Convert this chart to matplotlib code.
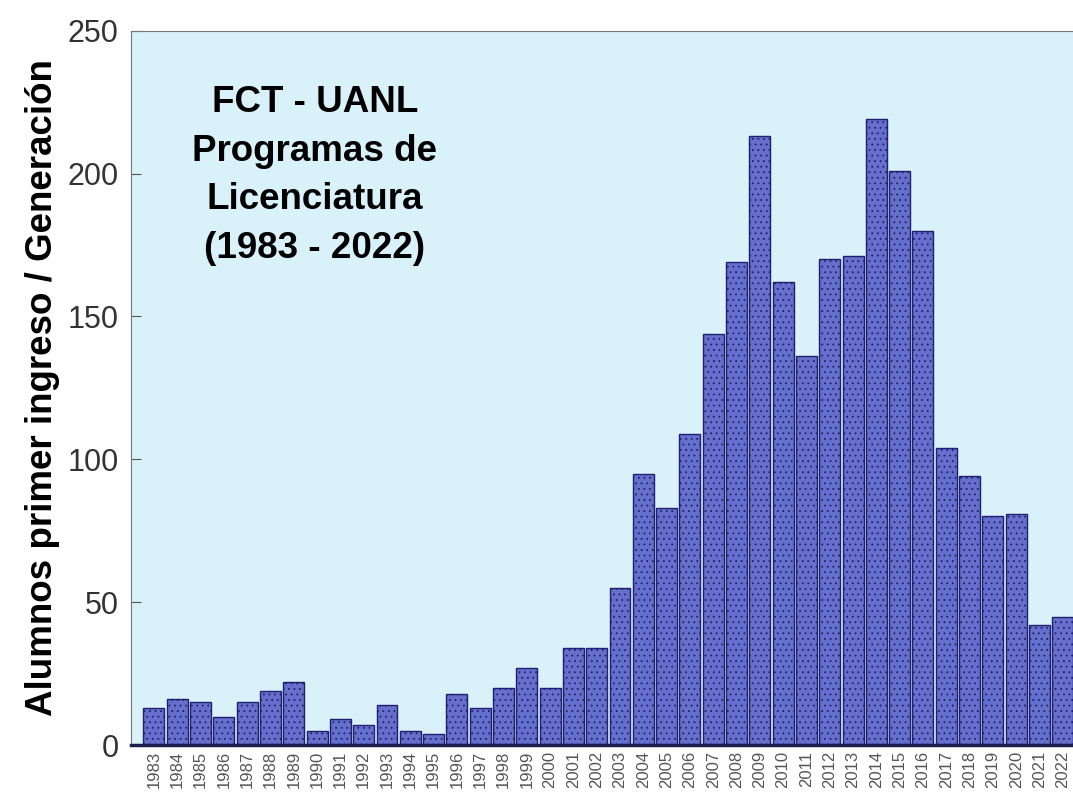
import matplotlib
matplotlib.use('Agg')
import matplotlib.pyplot as plt

# Alumnos de primer ingreso por generacion
years = [str(y) for y in range(1983, 2023)]
students = [13, 16, 15, 10, 15, 19, 22, 5, 9, 7,
            14, 5, 4, 18, 13, 20, 27, 20, 34, 34,
            55, 95, 83, 109, 144, 169, 213, 162, 136, 170,
            171, 219, 201, 180, 104, 94, 80, 81, 42, 45]
yticks = [0, 50, 100, 150, 200, 250]

plt.rcParams['font.family'] = ['Liberation Sans', 'DejaVu Sans']
plt.rcParams['hatch.linewidth'] = 0.6

fig = plt.figure(figsize=(10.73, 8.09), dpi=100)
ax = fig.add_axes([0.122, 0.079, 0.878, 0.883])
ax.set_facecolor('#d9f1f9')

x = list(range(len(years)))
ax.bar(x, students, width=0.9, color='#6670cc', edgecolor='#1e1f6e',
       linewidth=1.0, hatch='...')

ax.set_xlim(-0.99, 39.44)
ax.set_ylim(0, 250)
ax.set_yticks(yticks)
ax.set_yticklabels([str(t) for t in yticks], fontsize=22, color='#333333')
ax.set_xticks(x)
ax.set_xticklabels(years, rotation=90, fontsize=12, color='#555555')
ax.tick_params(axis='y', direction='in', length=7, color='#555555', pad=9)
ax.tick_params(axis='x', length=0, pad=4)

ax.spines['right'].set_visible(False)
ax.spines['top'].set_color('#777777')
ax.spines['left'].set_color('#777777')
ax.spines['bottom'].set_color('#1e1f4e')
ax.spines['bottom'].set_linewidth(2.5)

ax.set_ylabel('Alumnos primer ingreso / Generación', fontsize=26.5,
              fontweight='bold', labelpad=5)

ax.text(6.9, 231, 'FCT - UANL\nProgramas de\nLicenciatura\n(1983 - 2022)',
        ha='center', va='top', fontsize=26.5, fontweight='bold',
        linespacing=1.5)

fig.savefig('out.png', dpi=100)
